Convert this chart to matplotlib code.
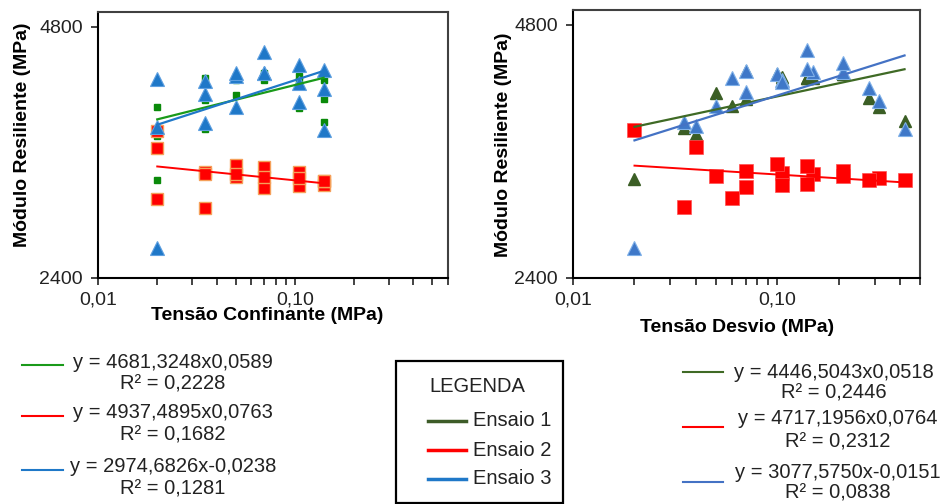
import numpy as np
import matplotlib
matplotlib.use('Agg')
import matplotlib.pyplot as plt
from matplotlib.ticker import LogLocator, NullLocator, NullFormatter
from matplotlib.lines import Line2D
from matplotlib.patches import Rectangle

plt.rcParams['font.family'] = ['Liberation Sans', 'DejaVu Sans']

# tensoes do ensaio triaxial (MPa)
sigma3 = [0.020, 0.020, 0.020, 0.035, 0.035, 0.035, 0.050, 0.050, 0.050,
          0.070, 0.070, 0.070, 0.105, 0.105, 0.105, 0.140, 0.140, 0.140]
sigmad = [0.020, 0.040, 0.060, 0.035, 0.070, 0.105, 0.050, 0.100, 0.150,
          0.070, 0.140, 0.210, 0.105, 0.210, 0.315, 0.140, 0.280, 0.420]

# modulo resiliente (MPa) de cada ensaio
ensaio1 = [3145, 3556, 3847, 3618, 3918, 4162, 3980, 4196, 4150,
           4231, 4147, 4196, 4128, 4196, 3836, 4150, 3929, 3693]
ensaio2 = [3603, 3437, 2985, 2913, 3215, 3197, 3174, 3277, 3195,
           3079, 3259, 3174, 3094, 3218, 3160, 3102, 3136, 3136]
ensaio3 = [2607, 3643, 4156, 3681, 3989, 4128, 3849, 4196, 4220,
           4231, 4476, 4223, 4108, 4319, 3896, 4256, 4040, 3608]

# linhas de tendencia (potencia) desenhadas: ensaio 1, 2, 3
left_a = [4681.3248, 2974.6826, 4937.4895]
left_b = [0.0589, -0.0238, 0.0763]
right_a = [4446.5043, 3077.5750, 4717.1956]
right_b = [0.0518, -0.0151, 0.0764]

# textos das equacoes como aparecem na figura
left_eq = ["y = 4681,3248x0,0589", "y = 4937,4895x0,0763", "y = 2974,6826x-0,0238"]
left_r2 = ["R² = 0,2228", "R² = 0,1682", "R² = 0,1281"]
right_eq = ["y = 4446,5043x0,0518", "y = 4717,1956x0,0764", "y = 3077,5750x-0,0151"]
right_r2 = ["R² = 0,2446", "R² = 0,2312", "R² = 0,0838"]

legend_labels = ["Ensaio 1", "Ensaio 2", "Ensaio 3"]

W, H = 946, 504
fig = plt.figure(figsize=(W / 100, H / 100), dpi=100)


def fx(x):
    return x / W


def fy(y):
    return 1 - y / H


def axes_px(x0, y0, x1, y1):
    return fig.add_axes([fx(x0), fy(y1), fx(x1) - fx(x0), (y1 - y0) / H])


def style_axes(ax, xmax):
    ax.set_xscale('log')
    ax.set_yscale('log', base=2)
    ax.set_xlim(0.01, xmax)
    ax.set_ylim(2400, 5000)
    ax.set_xticks([0.01, 0.1])
    ax.set_xticklabels(['0,01', '0,10'])
    ax.xaxis.set_minor_locator(LogLocator(base=10, subs=np.arange(2, 10)))
    ax.xaxis.set_minor_formatter(NullFormatter())
    ax.set_yticks([2400, 4800])
    ax.set_yticklabels(['2400', '4800'])
    ax.yaxis.set_minor_locator(NullLocator())
    ax.tick_params(axis='x', which='both', direction='out', length=5, width=1.2,
                   pad=5, labelsize=14, colors='#222222')
    ax.tick_params(axis='y', which='major', direction='out', length=5, width=1.2,
                   pad=6, labelsize=14, colors='#222222')
    for s in ['top', 'right']:
        ax.spines[s].set_color('#404040')
        ax.spines[s].set_linewidth(1.5)
    for s in ['left', 'bottom']:
        ax.spines[s].set_color('black')
        ax.spines[s].set_linewidth(1.5)


def trend(ax, x, a, b, color, lw):
    xs = np.geomspace(min(x), max(x), 50)
    ax.plot(xs, a * xs ** b, color=color, lw=lw, zorder=5)


# grafico da esquerda - tensao confinante
ax1 = axes_px(98, 12, 448, 278)
style_axes(ax1, 0.6)
ax1.plot(sigma3, ensaio1, 's', ms=4, color='#0a8a0a', zorder=2)
ax1.plot(sigma3, ensaio2, 's', ms=9, color='#ff0000', mec='#f5a05a', mew=1, zorder=3)
ax1.plot(sigma3, ensaio3, '^', ms=10, color='#1f78c8', mec='#5fa0e0', mew=0.8, zorder=4)
trend(ax1, sigma3, left_a[0], left_b[0], '#1a9a1a', 1.6)
trend(ax1, sigma3, left_a[1], left_b[1], '#ff0000', 1.4)
trend(ax1, sigma3, left_a[2], left_b[2], '#1f78c8', 1.6)

# grafico da direita - tensao desvio
ax2 = axes_px(573, 10, 920, 278)
style_axes(ax2, 0.5)
ax2.plot(sigmad, ensaio1, '^', ms=8.5, color='#3b5e25', zorder=2)
ax2.plot(sigmad, ensaio2, 's', ms=9.5, color='#ff0000', mec='#ff5050', mew=0.5, zorder=3)
ax2.plot(sigmad, ensaio3, '^', ms=9.5, color='#3f78c8', mec='#7fb0e8', mew=0.8, zorder=4)
trend(ax2, sigmad, right_a[0], right_b[0], '#3f6a25', 1.6)
trend(ax2, sigmad, right_a[1], right_b[1], '#ff0000', 1.4)
trend(ax2, sigmad, right_a[2], right_b[2], '#4472c4', 1.6)

# titulos dos eixos
fig.text(fx(23), fy(135), 'Módulo Resiliente (MPa)', rotation=90, fontsize=14,
         fontweight='bold', ha='center', va='center', color='black')
fig.text(fx(503), fy(145), 'Módulo Resiliente (MPa)', rotation=90, fontsize=14,
         fontweight='bold', ha='center', va='center', color='black')
fig.text(fx(267), fy(316), 'Tensão Confinante (MPa)', fontsize=14,
         fontweight='bold', ha='center', va='center', color='black')
fig.text(fx(737), fy(327), 'Tensão Desvio (MPa)', fontsize=14,
         fontweight='bold', ha='center', va='center', color='black')

# equacoes das linhas de tendencia
txt_color = '#222222'
left_cols = ['#1a9a1a', '#ff0000', '#1f78c8']
left_y = [362, 413, 467]
for i in range(3):
    y0 = left_y[i]
    fig.add_artist(Line2D([fx(22), fx(63)], [fy(y0 + 3), fy(y0 + 3)],
                          color=left_cols[i], lw=1.5))
    fig.text(fx(173), fy(y0), left_eq[i], fontsize=14.5, ha='center', va='center',
             color=txt_color)
    fig.text(fx(173), fy(y0 + 22), left_r2[i], fontsize=14.5, ha='center',
             va='center', color=txt_color)

right_cols = ['#3f6a25', '#ff0000', '#4472c4']
right_y = [372, 418, 472]
right_seg = [372, 427, 482]
right_xc = [834, 838, 838]
right_dy = [21, 24, 21]
for i in range(3):
    y0 = right_y[i]
    fig.add_artist(Line2D([fx(683), fx(723)], [fy(right_seg[i]), fy(right_seg[i])],
                          color=right_cols[i], lw=1.5))
    fig.text(fx(right_xc[i]), fy(y0), right_eq[i], fontsize=14.5, ha='center',
             va='center', color=txt_color)
    fig.text(fx(right_xc[i]), fy(y0 + right_dy[i]), right_r2[i], fontsize=14.5,
             ha='center', va='center', color=txt_color)

# caixa de legenda
fig.add_artist(Rectangle((fx(396), fy(503)), fx(563) - fx(396), (503 - 361) / H,
                         transform=fig.transFigure, fill=False, ec='black', lw=1.6))
fig.text(fx(477), fy(387), 'LEGENDA', fontsize=14.5, ha='center', va='center',
         color=txt_color)
leg_cols = ['#3d5c28', '#ff0000', '#1f78c8']
leg_y = [421, 450, 479]
for i in range(3):
    fig.add_artist(Line2D([fx(428), fx(466)], [fy(leg_y[i]), fy(leg_y[i])],
                          color=leg_cols[i], lw=2.5))
    fig.text(fx(473), fy(leg_y[i]), legend_labels[i], fontsize=14.5, ha='left',
             va='center', color=txt_color)

fig.savefig('out.png', dpi=100)
